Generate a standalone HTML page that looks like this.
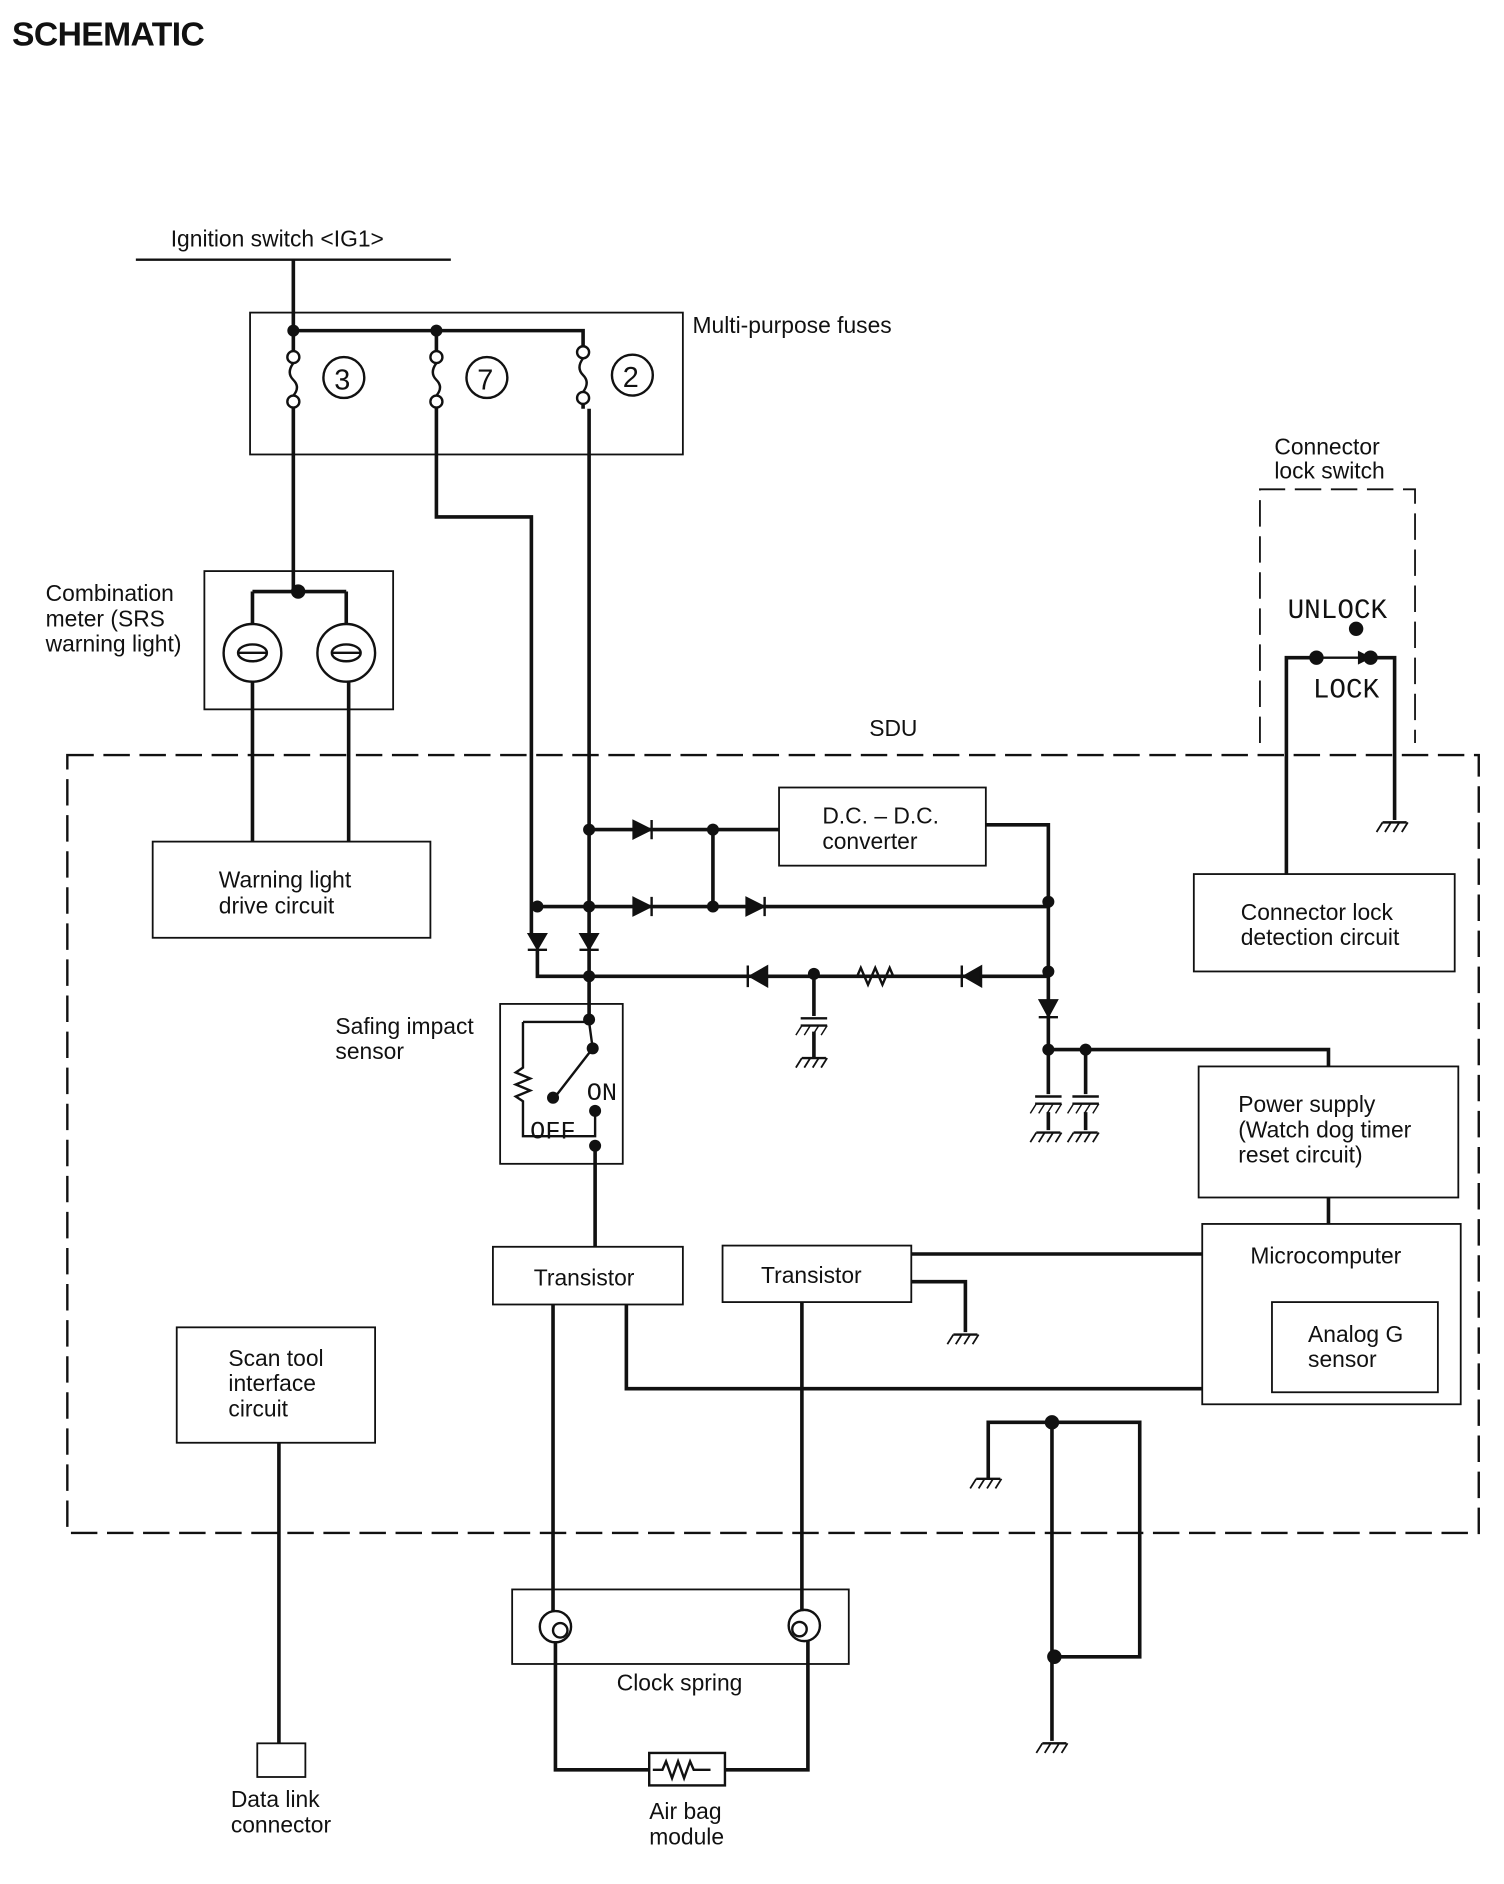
<!DOCTYPE html>
<html><head><meta charset="utf-8"><style>
html,body{margin:0;padding:0;background:#fff}
svg{display:block}
text{font-family:"Liberation Sans",sans-serif;font-size:19px;fill:#111}
</style></head><body>
<svg width="1504" height="1884" viewBox="0 0 1251 1567" preserveAspectRatio="none" xmlns="http://www.w3.org/2000/svg">
<defs>
<g id="gnd"><line x1="-10" y1="0" x2="10" y2="0" stroke="#111" stroke-width="2"/><path d="M-10 0 l-5 8 M-3 0 l-5 8 M4 0 l-5 8 M11 0 l-5 8" stroke="#111" stroke-width="1.5"/></g>
<g id="cap"><line x1="-11" y1="0" x2="11" y2="0" stroke="#111" stroke-width="2"/><line x1="-11" y1="6" x2="11" y2="6" stroke="#111" stroke-width="2"/><path d="M-10 6 l-5 8 M-3 6 l-5 8 M4 6 l-5 8 M11 6 l-5 8" stroke="#111" stroke-width="1.2"/></g>
</defs>
<g fill="none" stroke="#111" stroke-width="3">
<text x="10" y="38" style="font-weight:bold;font-size:28px;stroke:none;letter-spacing:-0.5px">SCHEMATIC</text>
<line x1="113" y1="216" x2="375" y2="216" stroke-width="2"/>
<rect x="208" y="260" width="360" height="118" stroke-width="1.5"/>
<rect x="170" y="475" width="157" height="115" stroke-width="1.5"/>
<rect x="127" y="700" width="231" height="80" stroke-width="1.5"/>
<rect x="648" y="655" width="172" height="65" stroke-width="1.5"/>
<rect x="993" y="727" width="217" height="81" stroke-width="1.5"/>
<rect x="416" y="835" width="102" height="133" stroke-width="1.5"/>
<rect x="997" y="887" width="216" height="109" stroke-width="1.5"/>
<rect x="1000" y="1018" width="215" height="150" stroke-width="1.5"/>
<rect x="1058" y="1083" width="138" height="75" stroke-width="1.5"/>
<rect x="410" y="1037" width="158" height="48" stroke-width="1.5"/>
<rect x="601" y="1036" width="157" height="47" stroke-width="1.5"/>
<rect x="147" y="1104" width="165" height="96" stroke-width="1.5"/>
<rect x="426" y="1322" width="280" height="62" stroke-width="1.5"/>
<rect x="214" y="1450" width="40" height="28" stroke-width="1.5"/>
<rect x="540" y="1458" width="63" height="27" stroke-width="2"/>
<rect x="56" y="628" width="1174" height="647" stroke-width="2" stroke-dasharray="22 8"/>
<path d="M1048 618 V407 H1177 V618" stroke-width="1.5" stroke-dasharray="22 8"/>
<path d="M244 216 V275 H485 V293 M244 275 V297 M244 334 V492 M363 275 V297 M363 334 V430 H442 V780 M485 331 V340 M490 340 V848"/>
<path d="M210 492 H288 M210 519 V492 M288 492 V519 M210 567 V700 M290 567 V700"/>
<path d="M490 690 H648 M593 690 V754 M447 754 H872 M820 686 H872 V873 M447 790 V812 H872 M677 812 V845 M872 873 H1105 V887 M903 873 V910 M872 873 V910 M1105 996 V1018"/>
<path d="M677 858 V880 M872 925 V940 M903 925 V940"/>
<path d="M495 953 V1037 M758 1043 H1000 M758 1066 H803 V1108 M521 1085 V1155 H1000"/>
<path d="M1070 727 V547 H1095 M1140 547 H1160 V682"/>
<path d="M232 1200 V1450 M460 1085 V1340 M462 1365 V1472 H540 M603 1472 H672 V1365 M667 1083 V1340"/>
<path d="M822 1230 V1183 H948 V1378 H875 M875 1183 V1448"/>
<g stroke-width="2">
<circle cx="244" cy="297" r="5" fill="#fff"/><circle cx="244" cy="334" r="5" fill="#fff"/><path d="M244 302 q-6 8 0 14 q6 6 0 13"/>
<circle cx="363" cy="297" r="5" fill="#fff"/><circle cx="363" cy="334" r="5" fill="#fff"/><path d="M363 302 q-6 8 0 14 q6 6 0 13"/>
<circle cx="485" cy="293" r="5" fill="#fff"/><circle cx="485" cy="331" r="5" fill="#fff"/><path d="M485 298 q-6 8 0 14 q6 6 0 14"/>
<circle cx="286" cy="314" r="17"/><circle cx="405" cy="314" r="17"/><circle cx="526" cy="312" r="17"/>
<circle cx="210" cy="543" r="24"/><circle cx="288" cy="543" r="24"/>
<ellipse cx="210" cy="543" rx="12" ry="7"/><ellipse cx="288" cy="543" rx="12" ry="7"/>
<path d="M198 543 H222 M276 543 H300"/>
</g>
<text x="278" y="324" style="stroke:none;font-size:24px">3</text><text x="397" y="324" style="stroke:none;font-size:24px">7</text><text x="518" y="322" style="stroke:none;font-size:24px">2</text>
<g fill="#111" stroke-width="2">
<path d="M527 683 L541 690 L527 697Z M542 682 V698"/>
<path d="M527 747 L541 754 L527 761Z M542 746 V762"/>
<path d="M621 747 L635 754 L621 761Z M636 746 V762"/>
<path d="M638 804 L624 812 L638 820Z M622 803 V821"/>
<path d="M816 804 L802 812 L816 820Z M800 803 V821"/>
<path d="M440 777 L454 777 L447 789Z M439 790 H455"/>
<path d="M483 777 L497 777 L490 789Z M482 790 H498"/>
<path d="M865 832 L879 832 L872 845Z M864 846 H880"/>
</g>
<path d="M690 812 H713 l3 -7 l6 14 l6 -14 l6 14 l6 -14 l3 7 H800" stroke-width="2"/>
<path d="M543 1472 h8 l3 -7 l5 14 l5 -14 l5 14 l5 -14 l3 7 h14" stroke-width="2"/>
<path d="M435 850 V888 l-6 4 l12 5 l-12 5 l12 5 l-12 5 l6 4 V945 H495 V924 M435 850 H490 L493 872" stroke-width="2"/>
<path d="M493 872 L462 912" stroke-width="2"/>
<path d="M1095 547 L1135 547" stroke-width="2"/><path d="M1130 542 L1140 547 L1130 552Z" fill="#111" stroke-width="1"/>
<g stroke-width="2"><circle cx="462" cy="1353" r="13"/><circle cx="669" cy="1352" r="13"/><circle cx="466" cy="1356" r="6"/><circle cx="665" cy="1355" r="6"/></g>
<g fill="#111" stroke="none">
<circle cx="244" cy="275" r="5"/><circle cx="363" cy="275" r="5"/><circle cx="248" cy="492" r="6"/>
<circle cx="490" cy="690" r="5"/><circle cx="593" cy="690" r="5"/><circle cx="447" cy="754" r="5"/><circle cx="490" cy="754" r="5"/><circle cx="593" cy="754" r="5"/><circle cx="872" cy="750" r="5"/>
<circle cx="490" cy="812" r="5"/><circle cx="677" cy="810" r="5"/><circle cx="872" cy="808" r="5"/><circle cx="872" cy="873" r="5"/><circle cx="903" cy="873" r="5"/>
<circle cx="490" cy="848" r="5"/><circle cx="493" cy="872" r="5"/><circle cx="460" cy="913" r="5"/><circle cx="495" cy="924" r="5"/><circle cx="495" cy="953" r="5"/>
<circle cx="1095" cy="547" r="6"/><circle cx="1140" cy="547" r="6"/><circle cx="1128" cy="523" r="6"/>
<circle cx="875" cy="1183" r="6"/><circle cx="877" cy="1378" r="6"/>
</g>
<use href="#cap" x="677" y="847"/><use href="#gnd" x="677" y="880"/>
<use href="#cap" x="872" y="912"/><use href="#cap" x="903" y="912"/><use href="#gnd" x="872" y="942"/><use href="#gnd" x="903" y="942"/>
<use href="#gnd" x="1160" y="684"/><use href="#gnd" x="803" y="1110"/><use href="#gnd" x="822" y="1230"/><use href="#gnd" x="877" y="1450"/>
</g>
<g>
<text x="142" y="205">Ignition switch &lt;IG1&gt;</text>
<text x="576" y="277">Multi-purpose fuses</text>
<text x="1060" y="378">Connector</text><text x="1060" y="398">lock switch</text>
<text x="1071" y="514" style="font-family:'Liberation Mono',monospace;font-size:23px">UNLOCK</text>
<text x="1092" y="580" style="font-family:'Liberation Mono',monospace;font-size:23px">LOCK</text>
<text x="38" y="500">Combination</text><text x="38" y="521">meter (SRS</text><text x="38" y="542">warning light)</text>
<text x="723" y="612">SDU</text>
<text x="684" y="685">D.C. – D.C.</text><text x="684" y="706">converter</text>
<text x="182" y="738">Warning light</text><text x="182" y="760">drive circuit</text>
<text x="1032" y="765">Connector lock</text><text x="1032" y="786">detection circuit</text>
<text x="279" y="860">Safing impact</text><text x="279" y="881">sensor</text>
<text x="488" y="915" style="font-family:'Liberation Mono',monospace;font-size:21px">ON</text>
<text x="441" y="947" style="font-family:'Liberation Mono',monospace;font-size:21px">OFF</text>
<text x="1030" y="925">Power supply</text><text x="1030" y="946">(Watch dog timer</text><text x="1030" y="967">reset circuit)</text>
<text x="1040" y="1051">Microcomputer</text>
<text x="1088" y="1116">Analog G</text><text x="1088" y="1137">sensor</text>
<text x="444" y="1069">Transistor</text><text x="633" y="1067">Transistor</text>
<text x="190" y="1136">Scan tool</text><text x="190" y="1157">interface</text><text x="190" y="1178">circuit</text>
<text x="513" y="1406">Clock spring</text>
<text x="192" y="1503">Data link</text><text x="192" y="1524">connector</text>
<text x="540" y="1513">Air bag</text><text x="540" y="1534">module</text>
</g>
</svg>
</body></html>
